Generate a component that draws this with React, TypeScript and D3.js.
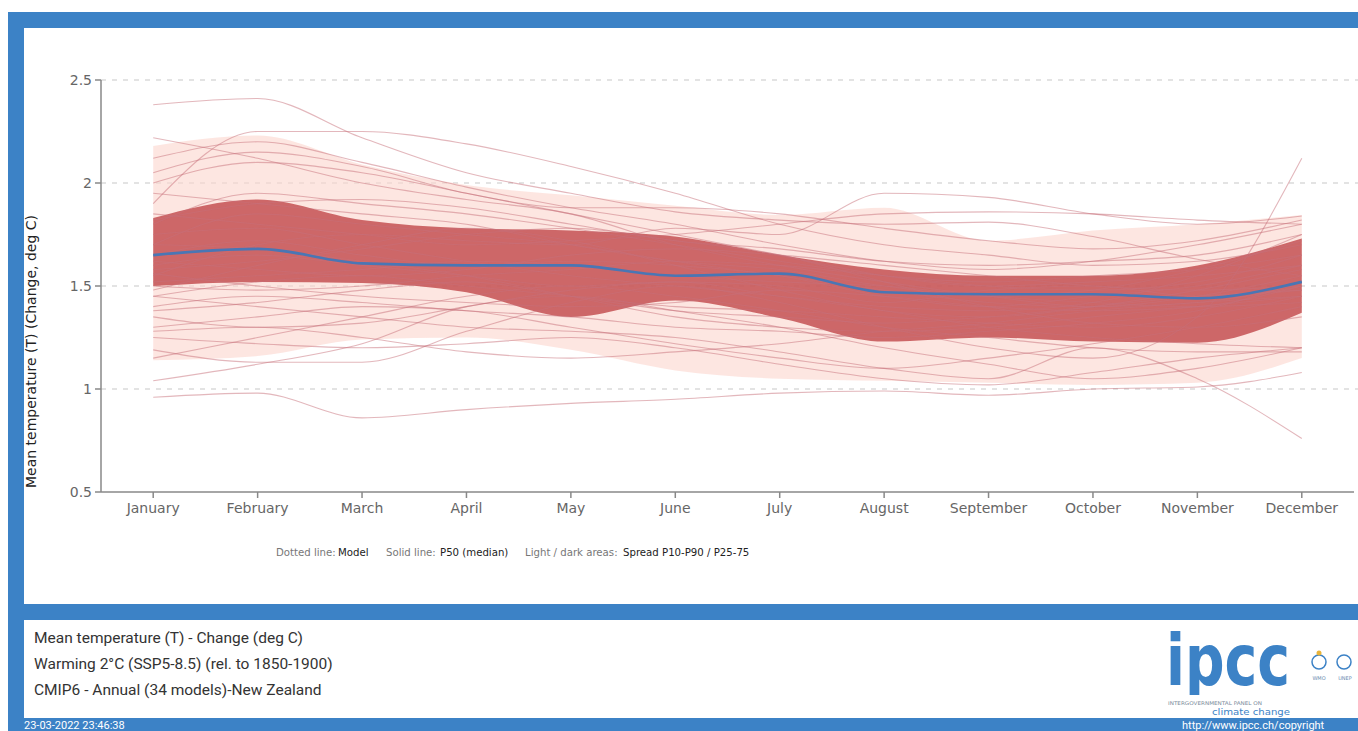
import React from 'react';
import * as d3 from 'd3';

const months = ['January', 'February', 'March', 'April', 'May', 'June', 'July', 'August', 'September', 'October', 'November', 'December'];
const yTicks = [0.5, 1, 1.5, 2, 2.5];

// P50 and spread percentiles (deg C)
const p50 = [1.65, 1.68, 1.61, 1.6, 1.6, 1.55, 1.56, 1.47, 1.46, 1.46, 1.44, 1.52];
const p25 = [1.5, 1.52, 1.515, 1.47, 1.35, 1.43, 1.345, 1.23, 1.25, 1.23, 1.225, 1.37];
const p75 = [1.83, 1.92, 1.82, 1.78, 1.77, 1.74, 1.65, 1.58, 1.55, 1.55, 1.6, 1.73];
const p10 = [1.14, 1.16, 1.24, 1.25, 1.19, 1.09, 1.05, 1.04, 1.03, 1.02, 1.03, 1.15];
const p90 = [2.18, 2.23, 2.09, 1.99, 1.94, 1.89, 1.845, 1.88, 1.72, 1.77, 1.8, 1.845];

// individual model runs (34 models)
const modelRuns = [
  [2.38, 2.41, 2.22, 2.05, 1.95, 1.86, 1.82, 1.8, 1.81, 1.74, 1.63, 1.55],
  [0.96, 0.98, 0.86, 0.9, 0.93, 0.95, 0.98, 0.99, 0.97, 1.0, 1.01, 1.08],
  [1.04, 1.12, 1.22, 1.4, 1.45, 1.38, 1.3, 1.2, 1.12, 1.05, 1.1, 1.2],
  [1.19, 1.13, 1.13, 1.28, 1.42, 1.5, 1.42, 1.3, 1.2, 1.15, 1.35, 2.12],
  [1.45, 1.4, 1.35, 1.3, 1.28, 1.25, 1.18, 1.1, 1.05, 1.2, 1.05, 0.76],
  [2.22, 2.12, 2.0, 1.92, 1.85, 1.7, 1.6, 1.52, 1.45, 1.4, 1.42, 1.5],
  [1.9, 2.25, 2.25, 2.19, 2.08, 1.95, 1.8, 1.7, 1.65, 1.6, 1.62, 1.7],
  [1.55, 1.7, 1.75, 1.72, 1.7, 1.78, 1.75, 1.95, 1.93, 1.85, 1.8, 1.84],
  [2.12, 2.2, 2.1, 1.98, 1.88, 1.8, 1.7, 1.62, 1.58, 1.62, 1.7, 1.8],
  [2.0, 2.1, 2.05, 1.95, 1.85, 1.75, 1.65, 1.55, 1.5, 1.52, 1.55, 1.6],
  [1.8, 1.95, 1.9, 1.85, 1.78, 1.7, 1.62, 1.55, 1.5, 1.48, 1.52, 1.65],
  [1.7, 1.85, 1.8, 1.75, 1.7, 1.62, 1.55, 1.48, 1.42, 1.4, 1.45, 1.55],
  [1.65, 1.72, 1.65, 1.6, 1.62, 1.6, 1.55, 1.45, 1.4, 1.45, 1.5, 1.6],
  [1.6, 1.65, 1.6, 1.55, 1.5, 1.52, 1.5, 1.42, 1.48, 1.5, 1.45, 1.48],
  [1.52, 1.55, 1.58, 1.62, 1.6, 1.55, 1.52, 1.5, 1.45, 1.42, 1.4, 1.42],
  [1.5, 1.48, 1.5, 1.55, 1.58, 1.62, 1.6, 1.55, 1.52, 1.55, 1.58, 1.65],
  [1.45, 1.52, 1.55, 1.5, 1.45, 1.4, 1.38, 1.35, 1.32, 1.3, 1.35, 1.45],
  [1.4, 1.45, 1.42, 1.38, 1.35, 1.3, 1.28, 1.25, 1.28, 1.32, 1.38, 1.52],
  [1.35, 1.3, 1.32, 1.4, 1.48, 1.52, 1.45, 1.38, 1.3, 1.25, 1.22, 1.2],
  [1.3, 1.35, 1.4, 1.38, 1.3, 1.22, 1.15, 1.1, 1.15, 1.22, 1.3, 1.4],
  [1.25, 1.22, 1.2, 1.22, 1.25, 1.2, 1.12, 1.05, 1.02, 1.08, 1.15, 1.2],
  [1.15, 1.25, 1.35, 1.45, 1.5, 1.45, 1.38, 1.3, 1.25, 1.2, 1.18, 1.18],
  [1.85, 1.8, 1.75, 1.7, 1.72, 1.75, 1.8, 1.85, 1.86, 1.85, 1.82, 1.8],
  [1.75, 1.78, 1.7, 1.62, 1.55, 1.5, 1.45, 1.4, 1.38, 1.42, 1.55, 1.75],
  [1.62, 1.58, 1.55, 1.58, 1.65, 1.68, 1.65, 1.6, 1.55, 1.5, 1.48, 1.5],
  [1.95, 1.9, 1.85, 1.8, 1.7, 1.62, 1.58, 1.5, 1.45, 1.48, 1.58, 1.72],
  [2.05, 2.15, 2.08, 1.95, 1.88, 1.88, 1.85, 1.78, 1.72, 1.68, 1.72, 1.82],
  [1.58, 1.62, 1.68, 1.75, 1.78, 1.72, 1.65, 1.52, 1.4, 1.32, 1.3, 1.35],
  [1.48, 1.6, 1.7, 1.78, 1.72, 1.6, 1.48, 1.38, 1.35, 1.4, 1.48, 1.58],
  [1.38, 1.42, 1.48, 1.52, 1.45, 1.38, 1.35, 1.32, 1.35, 1.4, 1.45, 1.48],
  [1.7, 1.68, 1.62, 1.55, 1.45, 1.35, 1.3, 1.28, 1.3, 1.35, 1.4, 1.45],
  [1.28, 1.3, 1.25, 1.18, 1.15, 1.18, 1.22, 1.28, 1.32, 1.38, 1.42, 1.45],
  [1.82, 1.9, 1.92, 1.88, 1.8, 1.72, 1.68, 1.62, 1.6, 1.62, 1.65, 1.75],
  [1.56, 1.5, 1.45, 1.42, 1.4, 1.42, 1.48, 1.45, 1.4, 1.38, 1.4, 1.5],
];

// legend pieces: [text, x start, dark?]
const legendParts: [string, number, boolean][] = [
  ['Dotted line:', 276, false],
  ['Model', 338, true],
  ['Solid line:', 386, false],
  ['P50 (median)', 440, true],
  ['Light / dark areas:', 525, false],
  ['Spread P10-P90 / P25-75', 623, true],
];

const footerLines = [
  'Mean temperature (T) - Change (deg C)',
  'Warming 2°C (SSP5-8.5) (rel. to 1850-1900)',
  'CMIP6 - Annual (34 models)-New Zealand',
];

const W = 1358;
const H = 731;
const blue = '#3c82c6';
const plot = { left: 101, right: 1354, top: 80, bottom: 492 };

const App = () => {
  const x = d3.scalePoint<string>().domain(months).range([plot.left, plot.right]).padding(0.5);
  const y = d3.scaleLinear().domain([0.5, 2.5]).range([plot.bottom, plot.top]);

  const band = (lo: number[], hi: number[]) =>
    d3.area<string>()
      .x(m => x(m)!)
      .y0((m, i) => y(lo[i]))
      .y1((m, i) => y(hi[i]))
      .curve(d3.curveMonotoneX)(months)!;

  const line = d3.line<number>()
    .x((d, i) => x(months[i])!)
    .y(d => y(d))
    .curve(d3.curveMonotoneX);

  const sans = 'DejaVu Sans, sans-serif';
  const cond = 'DejaVu Sans Condensed, DejaVu Sans, sans-serif';

  return (
    <svg width={W} height={H} style={{ position: 'absolute', left: 0, top: 0, background: '#fff' }}>
      <defs>
        <clipPath id="logoClip"><rect x={1150} y={615} width={160} height={80} /></clipPath>
      </defs>
      {/* frame */}
      <rect x={8} y={12} width={W - 8} height={16} fill={blue} />
      <rect x={8} y={12} width={16} height={H - 12} fill={blue} />
      <rect x={8} y={604} width={W - 8} height={16} fill={blue} />
      <rect x={8} y={718} width={W - 8} height={13} fill={blue} />

      {/* grid */}
      {yTicks.filter(t => t > 0.5).map(t => (
        <line key={t} x1={plot.left} x2={W} y1={y(t)} y2={y(t)} stroke="#c8c8c8" strokeWidth={1.2} strokeDasharray="5,6" />
      ))}

      {/* spread areas */}
      <path d={band(p10, p90)} fill="#fbd6ce" fillOpacity={0.62} />
      <path d={band(p25, p75)} fill="#c0474a" fillOpacity={0.8} />

      {/* model runs */}
      <g fill="none" stroke="#c8707a" strokeOpacity={0.5} strokeWidth={1.1}>
        {modelRuns.map((r, i) => <path key={i} d={line(r)!} />)}
      </g>

      {/* median */}
      <path d={line(p50)!} fill="none" stroke="#4a76b4" strokeWidth={2.6} />

      {/* axes */}
      <g stroke="#888" strokeWidth={1.5} fill="none">
        <line x1={plot.left} x2={plot.left} y1={plot.top} y2={plot.bottom} />
        <line x1={plot.left} x2={plot.right} y1={plot.bottom} y2={plot.bottom} />
        {yTicks.map(t => <line key={t} x1={plot.left - 6} x2={plot.left} y1={y(t)} y2={y(t)} />)}
        {months.map(m => <line key={m} x1={x(m)} x2={x(m)} y1={plot.bottom} y2={plot.bottom + 6} />)}
      </g>
      <g fontFamily={sans} fontSize={14} fill="#666">
        {yTicks.map(t => (
          <text key={t} x={plot.left - 9} y={y(t) + 5} textAnchor="end">{String(t)}</text>
        ))}
        {months.map(m => (
          <text key={m} x={x(m)} y={plot.bottom + 21} textAnchor="middle">{m}</text>
        ))}
      </g>
      <text transform={`translate(36,${plot.bottom - 4}) rotate(-90)`} fontFamily={sans} fontSize={14} fill="#222">
        Mean temperature (T) (Change, deg C)
      </text>

      {/* legend */}
      <text y={556} fontFamily={cond} fontSize={11.3}>
        {legendParts.map(([t, lx, dark]) => (
          <tspan key={t} x={lx} fill={dark ? '#222' : '#777'}>{t}</tspan>
        ))}
      </text>

      {/* footer */}
      <g fontFamily="Roboto, sans-serif" fontSize={15.5} fill="#333">
        {footerLines.map((t, i) => <text key={i} x={34} y={643 + i * 26}>{t}</text>)}
      </g>
      <text x={24} y={729} fontFamily="Roboto, sans-serif" fontSize={11} fill="#fff">23-03-2022 23:46:38</text>
      <text x={1182} y={729} fontFamily="Roboto, sans-serif" fontSize={11} fill="#fff">http://www.ipcc.ch/copyright</text>

      {/* logo */}
      <text x={1166} y={685} clipPath="url(#logoClip)" fontFamily={cond} fontWeight="bold" fontSize={72} fill={blue} textLength={124} lengthAdjust="spacingAndGlyphs">ipcc</text>
      <text x={1168} y={705} fontFamily={sans} fontSize={5} fill="#7a8a9a" textLength={94} lengthAdjust="spacingAndGlyphs">INTERGOVERNMENTAL PANEL ON</text>
      <text x={1212} y={715} fontFamily={sans} fontSize={9} fill={blue} textLength={78} lengthAdjust="spacingAndGlyphs">climate change</text>
      <g fill="none" stroke={blue} strokeWidth={1.5}>
        <circle cx={1319} cy={662} r={7} />
        <circle cx={1344} cy={662} r={7} />
      </g>
      <circle cx={1319} cy={653} r={2.5} fill="#e8b43a" />
      <g fontFamily={sans} fontSize={5} fill="#6a8ab0" textAnchor="middle">
        <text x={1319} y={680}>WMO</text>
        <text x={1345} y={680}>UNEP</text>
      </g>
    </svg>
  );
};

export default App;
